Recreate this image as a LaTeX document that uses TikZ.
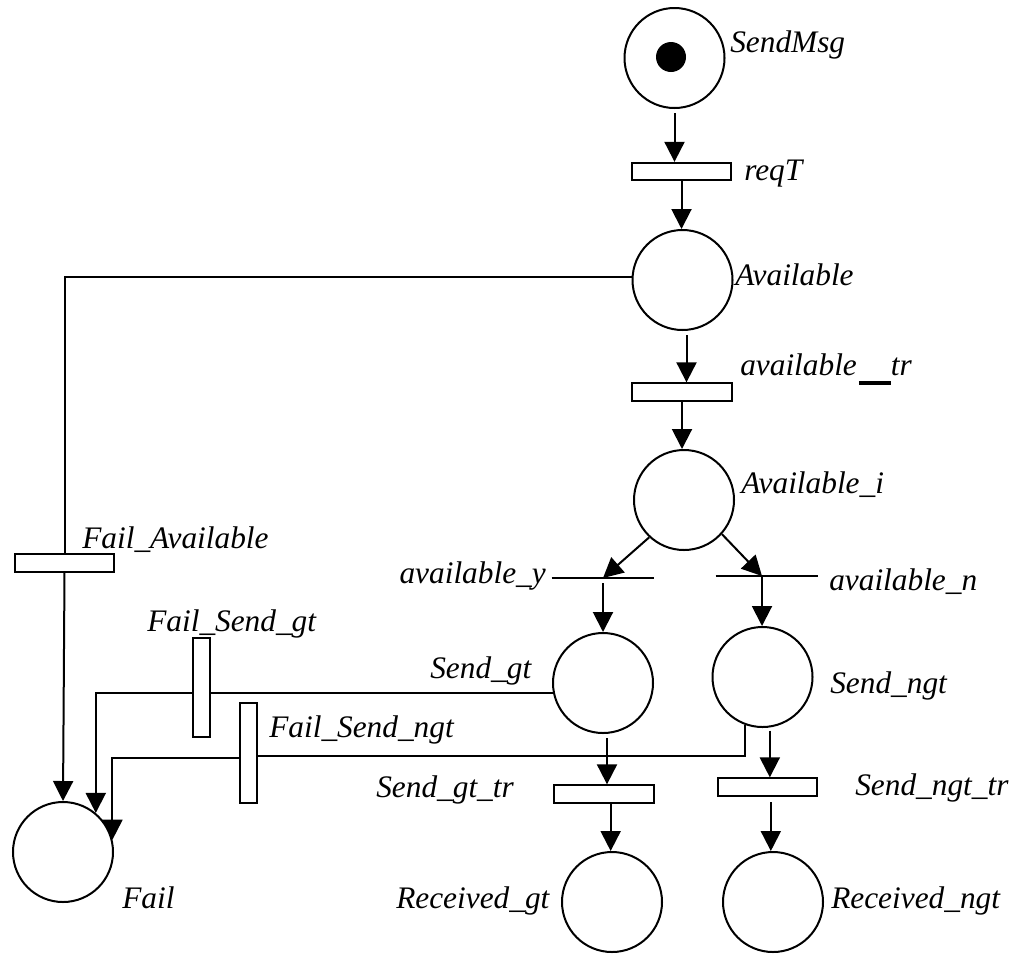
\documentclass[tikz,border=0pt]{standalone}
\usepackage{fontspec}
\setmainfont{Liberation Serif}
\usetikzlibrary{arrows.meta,calc}
\tikzset{
  place/.style={circle, draw, line width=1.5pt, minimum size=75pt, inner sep=0pt},
  token/.style={circle, fill=black, minimum size=22.5pt, inner sep=0pt},
  trans/.style={rectangle, draw, line width=1.5pt, minimum width=74.5pt, minimum height=13pt, inner sep=0pt},
  vtrans/.style={rectangle, draw, line width=1.5pt, minimum width=13pt, minimum height=74.5pt, inner sep=0pt},
  bar/.style={rectangle, inner sep=0pt, minimum width=76.5pt, minimum height=0pt},
  lbl/.style={font=\fontsize{23.5}{28}\selectfont\itshape, inner sep=0pt, anchor=base west},
  lblr/.style={lbl, anchor=base east},
  arc/.style={line width=1.5pt},
  arr/.style={line width=1.5pt, -{Triangle[length=15pt,width=15pt]}}
}
\begin{document}
\begin{tikzpicture}[x=0.75pt,y=-0.75pt]
\useasboundingbox (0,0) rectangle (1016,954);
% places
\node[place] (SendMsg) at (674.5,58) {};
\node[token] (tok) at (671,57) {};
\node[place] (Available) at (682.5,280) {};
\node[place] (Availablei) at (684,500) {};
\node[place] (Sendgt) at (603,683) {};
\node[place] (Sendngt) at (762.5,677) {};
\node[place] (Receivedgt) at (612,902) {};
\node[place] (Receivedngt) at (773,902) {};
\node[place] (Fail) at (63,852) {};
% transitions
\node[trans] (reqT) at (681.5,171.5) {};
\node[trans] (avtr) at (682,392) {};
\node[bar] (avy) at (603,578) {};
\node[bar] (avn) at (767,576) {};
\node[trans] (sgtr) at (604,794) {};
\node[trans] (sngtr) at (767.5,787) {};
\node[trans] (FailAv) at (64.5,563) {};
\node[vtrans] (FailSgt) at (201.5,687.5) {};
\node[vtrans] (FailSngt) at (248.5,753) {};
\draw[arc] (avy.west) -- (avy.east);
\draw[arc] (avn.west) -- (avn.east);
% labels
\node[lbl] (lSendMsg) at (730,52) {SendMsg};
\node[lbl] (lreqT) at (744,180) {reqT};
\node[lbl] (lAvailable) at (735,285) {Available};
\node[lbl] (lavtr) at (740,375) {available\hspace{1.5pt}\rule[-7.5pt]{24pt}{3pt}tr};
\node[lbl] (lAvailablei) at (741,493) {Available\_i};
\node[lblr] (lavy) at (546,583) {available\_y};
\node[lbl] (lavn) at (829,590) {available\_n};
\node[lbl] (lSendgt) at (430,678) {Send\_gt};
\node[lbl] (lSendngt) at (830,693) {Send\_ngt};
\node[lbl] (lFailAv) at (82,548) {Fail\_Available};
\node[lbl] (lFailSgt) at (147,631) {Fail\_Send\_gt};
\node[lbl] (lFailSngt) at (269,737) {Fail\_Send\_ngt};
\node[lbl] (lsgtr) at (376,797) {Send\_gt\_tr};
\node[lbl] (lsngtr) at (855,795) {Send\_ngt\_tr};
\node[lbl] (lRecgt) at (396,908) {Received\_gt};
\node[lbl] (lRecngt) at (831,908) {Received\_ngt};
\node[lbl] (lFail) at (122,908) {Fail};
% arcs
\draw[arr] ([yshift=-3pt]SendMsg.south) -- (SendMsg.south |- reqT.north);
\draw[arr] (reqT.south) -- (reqT.south |- Available.north);
\draw[arr] ([xshift=3pt,yshift=-3pt]Available.south) -- ([xshift=3pt]Available.south |- avtr.north);
\draw[arr] (avtr.south) -- (avtr.south |- Availablei.north);
\draw[arr] (Availablei.227) -- (avy.center);
\draw[arr] (Availablei.318) -- ([xshift=-3.75pt]avn.center);
\draw[arr] ([yshift=-4pt]avy.center) -- (Sendgt.north);
\draw[arr] ([xshift=-3.75pt,yshift=-1pt]avn.center) -- ([xshift=-3.75pt]avn.center |- Sendngt.north);
\draw[arr] ([xshift=3pt,yshift=-3pt]Sendgt.south) -- ([xshift=3pt]Sendgt.south |- sgtr.north);
\draw[arr] ([xshift=5.5pt,yshift=-2pt]Sendngt.south) -- ([xshift=5.5pt]Sendngt.south |- sngtr.north);
\draw[arr] ([xshift=5pt]sgtr.south) -- ([xshift=5pt]sgtr.south |- Receivedgt.north);
\draw[arr] ([xshift=2.5pt,yshift=-4pt]sngtr.south) -- ([xshift=2.5pt]sngtr.south |- Receivedngt.north);
% failure arcs
\draw[arc] ([yshift=2pt]Available.west) -| (FailAv.north);
\draw[arr] (FailAv.south) -- (Fail.north);
\draw[arc] (Sendgt.191) -- (Sendgt.191 -| FailSgt.east);
\draw[arr] (FailSgt.west |- Sendgt.191) -| (Fail.50);
\draw[arc] (Sendngt.250) |- ([yshift=-2pt]FailSngt.east);
\draw[arr] ([yshift=-4pt]FailSngt.west) -| (Fail.14);
\end{tikzpicture}
\end{document}
